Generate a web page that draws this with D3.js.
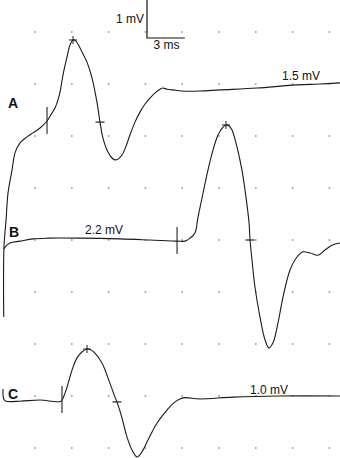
<!DOCTYPE html>
<html>
<head>
<meta charset="utf-8">
<script src="https://cdn.jsdelivr.net/npm/d3@7"></script>
<style>
  html, body { margin: 0; padding: 0; background: #fff; }
  svg { display: block; }
  text { font-family: "Liberation Sans", Arial, Helvetica, sans-serif; fill: #111; }
</style>
</head>
<body>
<script>
// ---- Data: time (ms) and amplitude (mV, relative to each trace's baseline) ----
const traceNames = ["A", "B", "C"];
const amplitudeLabels = ["1.5 mV", "2.2 mV", "1.0 mV"];
const scaleBarLabels = ["1 mV", "3 ms"];

const traceA_t = [0.45,0.47,0.64,0.80,1.13,1.37,1.78,2.35,2.84,3.41,3.98,4.39,4.63,4.87,5.04,5.28,5.61,5.85,6.10,6.34,6.67,6.99,7.24,7.65,8.05,8.30,8.54,8.95,9.28,9.52,9.77,10.09,10.42,10.74,11.15,11.56,11.97,12.37,12.86,13.19,13.43,13.76,14.25,14.98,16.45,18.08,21.10,24.03,26.23,27.86];
const traceA_v = [-6.30,-4.41,-3.68,-2.95,-2.32,-1.86,-1.59,-1.43,-1.32,-1.19,-1.00,-0.78,-0.65,-0.43,-0.22,0.24,0.73,1.05,1.19,1.16,0.97,0.76,0.59,0.16,-0.49,-1.03,-1.46,-1.84,-2.00,-2.05,-2.03,-1.92,-1.68,-1.38,-1.03,-0.76,-0.54,-0.38,-0.22,-0.14,-0.11,-0.14,-0.16,-0.19,-0.19,-0.16,-0.11,-0.03,0.00,0.03];

const traceB_t = [0.47,0.64,0.96,1.78,2.84,4.04,6.67,9.93,12.37,14.58,15.23,15.64,16.04,16.29,16.70,17.10,17.51,17.92,18.33,18.57,18.82,19.06,19.47,19.87,20.20,20.45,20.53,20.69,20.93,21.34,21.75,22.08,22.40,22.81,23.22,23.79,24.36,24.85,25.42,26.07,26.64,27.21,27.86];
const traceB_v = [-0.24,-0.16,-0.08,-0.03,0.03,0.05,0.05,0.03,0.00,-0.03,-0.03,0.05,0.19,0.62,1.27,1.89,2.43,2.84,3.05,3.11,3.08,2.97,2.51,1.89,1.16,0.46,0.00,-0.54,-1.27,-2.08,-2.70,-2.92,-2.78,-2.24,-1.54,-0.81,-0.46,-0.32,-0.35,-0.41,-0.27,-0.14,-0.08];

const traceC_t = [0.39,0.45,0.64,1.78,3.41,5.12,5.36,5.61,6.02,6.42,6.83,7.24,7.57,7.89,8.46,8.95,9.52,9.68,10.09,10.50,10.91,11.32,11.72,12.21,12.95,13.76,14.41,15.06,16.45,19.14,22.97,27.86];
const traceC_v = [0.19,-0.08,-0.14,-0.14,-0.11,-0.14,0.00,0.24,0.70,1.03,1.19,1.27,1.24,1.16,0.89,0.49,-0.03,-0.16,-0.59,-1.11,-1.46,-1.65,-1.51,-1.19,-0.73,-0.38,-0.16,-0.05,-0.08,-0.03,0.00,0.00];

// Markers: onset (vertical tick), peak (+), crossing (horizontal tick) — [t, v]
const onsetMarks = [[3.98,-1.00],[14.58,-0.03],[5.20,-0.11]];
const peakMarks  = [[6.10,1.19],[18.57,3.11],[7.24,1.27]];
const crossMarks = [[8.30,-1.03],[20.53,0.00],[9.68,-0.16]];

// grid tick positions (ms)
const gridTimes = [3,6,9,12,15,18,21,24,27];

// ---- Layout ----
const W = 340, H = 458;
const rowTop = 32, rowStep = 52, nRows = 9;
const baselineRows = [1, 4, 7];
const pxPerMV = 37;

const svg = d3.select("body").append("svg").attr("width", W).attr("height", H);
svg.append("rect").attr("width", W).attr("height", H).attr("fill", "#fff");

const x = d3.scaleLinear().domain([3, 27]).range([35, 329.4]);
const yRow = d3.scaleLinear().domain([0, 1]).range([rowTop, rowTop + rowStep]);
const yAmp = d3.scaleLinear().domain([0, 1]).range([0, -pxPerMV]);

// grid dots
const gridG = svg.append("g");
d3.range(nRows).forEach(r => {
  gridTimes.forEach(t => {
    gridG.append("rect")
      .attr("x", x(t) - 0.75).attr("y", yRow(r) - 0.75)
      .attr("width", 1.5).attr("height", 1.5)
      .attr("fill", "#8a8a8a");
  });
});

const traces = [
  d3.zip(traceA_t, traceA_v),
  d3.zip(traceB_t, traceB_v),
  d3.zip(traceC_t, traceC_v)
];

const line = d3.line()
  .x(d => x(d[0]))
  .y(d => yAmp(d[1]))
  .curve(d3.curveCatmullRom.alpha(0.5));

const labelPos = [
  { name: [8, 108 - 84], amp: [282, 80 - 84] },
  { name: [9, 237 - 240], amp: [85, 234 - 240] },
  { name: [8, 399 - 396], amp: [250, 394 - 396] }
];

traces.forEach((data, i) => {
  const g = svg.append("g").attr("transform", `translate(0,${yRow(baselineRows[i])})`);
  g.append("path").datum(data)
    .attr("d", line)
    .attr("fill", "none")
    .attr("stroke", "#1a1a1a")
    .attr("stroke-width", 1.1)
    .attr("stroke-linejoin", "round");

  const o = onsetMarks[i];
  g.append("line")
    .attr("x1", x(o[0])).attr("x2", x(o[0]))
    .attr("y1", yAmp(o[1]) - 14).attr("y2", yAmp(o[1]) + 13)
    .attr("stroke", "#222").attr("stroke-width", 1.1);
  const p = peakMarks[i];
  g.append("line")
    .attr("x1", x(p[0]) - 4).attr("x2", x(p[0]) + 4)
    .attr("y1", yAmp(p[1])).attr("y2", yAmp(p[1]))
    .attr("stroke", "#222").attr("stroke-width", 1);
  g.append("line")
    .attr("x1", x(p[0])).attr("x2", x(p[0]))
    .attr("y1", yAmp(p[1]) - 4).attr("y2", yAmp(p[1]) + 4)
    .attr("stroke", "#222").attr("stroke-width", 1);
  const c = crossMarks[i];
  g.append("line")
    .attr("x1", x(c[0]) - 4.5).attr("x2", x(c[0]) + 4.5)
    .attr("y1", yAmp(c[1])).attr("y2", yAmp(c[1]))
    .attr("stroke", "#222").attr("stroke-width", 1.2);

  g.append("text")
    .attr("x", labelPos[i].name[0]).attr("y", labelPos[i].name[1])
    .attr("font-size", 14).attr("font-weight", "bold")
    .text(traceNames[i]);
  g.append("text")
    .attr("x", labelPos[i].amp[0]).attr("y", labelPos[i].amp[1])
    .attr("font-size", 12)
    .text(amplitudeLabels[i]);
});

// scale bar
const sbX = 147, sbY = 38;
svg.append("path")
  .attr("d", `M${sbX},${sbY - pxPerMV - 1}V${sbY}H${sbX + (x(6) - x(3)) + 1}`)
  .attr("fill", "none").attr("stroke", "#111").attr("stroke-width", 1.2);
svg.append("text").attr("x", sbX - 3).attr("y", 23)
  .attr("text-anchor", "end").attr("font-size", 12).text(scaleBarLabels[0]);
svg.append("text").attr("x", sbX + (x(6) - x(3)) / 2 + 1).attr("y", 49)
  .attr("text-anchor", "middle").attr("font-size", 12).text(scaleBarLabels[1]);
</script>
</body>
</html>
